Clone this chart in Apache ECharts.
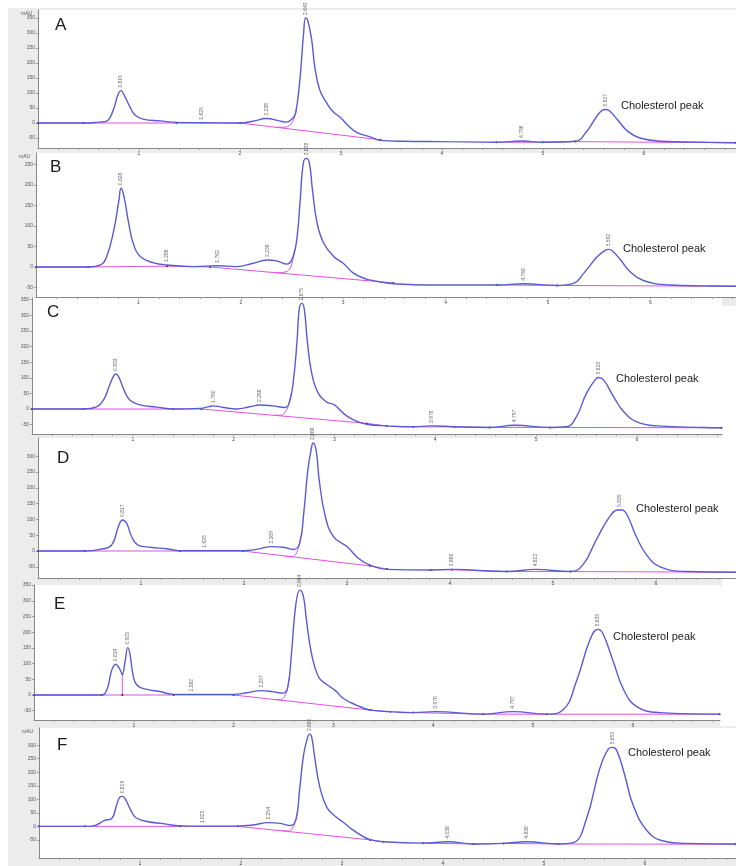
<!DOCTYPE html>
<html><head><meta charset="utf-8">
<script src="https://cdn.jsdelivr.net/npm/echarts@6/dist/echarts.min.js"></script>
<style>html,body{margin:0;padding:0;background:#fff}#c{width:736px;height:866px}</style>
</head><body><div id="c"></div>
<script>
// ---- Chromatogram traces (time min, signal mAU) ----
const curveA = [[0,0],[0.45,0],[0.61,3],[0.68,6],[0.745,43],[0.79,93],[0.82,108],[0.86,88],[0.91,54],[0.96,27],[1.04,13],[1.21,7],[1.37,2],[1.62,1],[2.0,0],[2.13,6],[2.26,15],[2.39,7],[2.46,3],[2.52,15],[2.55,33],[2.59,133],[2.63,300],[2.65,350],[2.67,343],[2.71,277],[2.74,188],[2.79,110],[2.86,66],[2.92,38],[3.0,17],[3.06,-5],[3.16,-32],[3.29,-46],[3.39,-58],[3.61,-61],[4.0,-62],[4.54,-64],[4.79,-60],[5.0,-64],[5.32,-61],[5.43,-29],[5.53,21],[5.59,43],[5.62,45],[5.66,40],[5.74,10],[5.84,-28],[5.96,-50],[6.16,-61],[6.58,-64],[6.91,-66]];
const curveB = [[0,0],[0.51,0],[0.63,5],[0.69,25],[0.76,90],[0.81,163],[0.83,192],[0.86,171],[0.905,107],[0.954,54],[1.02,25],[1.15,10],[1.28,5],[1.54,1],[1.77,3],[1.96,1],[2.12,9],[2.26,17],[2.35,15],[2.45,7],[2.51,25],[2.55,74],[2.58,163],[2.61,253],[2.64,265],[2.67,253],[2.70,188],[2.745,107],[2.81,58],[2.91,25],[3.0,9],[3.10,-15],[3.23,-30],[3.27,-32],[3.49,-41],[3.92,-44],[4.5,-44],[4.76,-41],[5.09,-45],[5.25,-40],[5.35,-15],[5.48,25],[5.56,41],[5.59,43],[5.63,39],[5.71,17],[5.80,-11],[5.93,-33],[6.2,-44],[6.52,-46],[6.84,-47]];
const curveC = [[0,0],[0.51,0],[0.64,7],[0.71,29],[0.77,77],[0.81,106],[0.83,112],[0.86,103],[0.906,66],[0.97,29],[1.07,13],[1.24,6],[1.40,0],[1.67,2],[1.76,8],[1.80,10],[1.90,5],[2.03,0],[2.16,7],[2.26,13],[2.39,10],[2.51,5],[2.55,18],[2.59,82],[2.63,221],[2.65,317],[2.675,338],[2.70,322],[2.73,221],[2.775,114],[2.84,50],[2.92,23],[3.0,13],[3.09,-14],[3.19,-35],[3.32,-49],[3.52,-54],[3.78,-57],[3.96,-54],[4.19,-57],[4.54,-59],[4.79,-52],[5.14,-59],[5.30,-57],[5.40,-25],[5.50,50],[5.59,95],[5.62,101],[5.67,93],[5.77,39],[5.87,-9],[6.0,-41],[6.2,-54],[6.66,-59],[6.84,-60]];
const curveD = [[0,0],[0.457,0],[0.60,5],[0.715,19],[0.78,77],[0.82,98],[0.86,88],[0.91,45],[0.97,19],[1.09,12],[1.25,7],[1.38,1],[1.62,1],[2.0,1],[2.12,5],[2.27,14],[2.38,12],[2.48,5],[2.54,24],[2.58,119],[2.62,256],[2.66,335],[2.67,342],[2.70,320],[2.73,225],[2.79,109],[2.87,45],[3.0,14],[3.11,-23],[3.22,-44],[3.39,-58],[3.81,-60],[4.02,-58],[4.55,-65],[4.83,-58],[5.17,-65],[5.29,-44],[5.42,35],[5.55,109],[5.63,130],[5.67,130],[5.72,114],[5.81,45],[5.91,-13],[6.04,-50],[6.30,-65],[6.78,-67]];
const curveE = [[0,0],[0.68,0],[0.73,16],[0.78,80],[0.82,98],[0.855,85],[0.885,67],[0.91,101],[0.94,151],[0.96,133],[0.99,69],[1.03,32],[1.13,18],[1.26,11],[1.40,2],[1.58,2],[2.0,2],[2.13,7],[2.28,14],[2.40,10],[2.49,6],[2.54,21],[2.58,133],[2.625,292],[2.665,334],[2.70,313],[2.73,239],[2.78,133],[2.85,58],[2.93,34],[3.02,14],[3.10,-11],[3.23,-32],[3.37,-48],[3.57,-53],[3.80,-56],[4.02,-53],[4.50,-61],[4.80,-53],[5.14,-61],[5.30,-48],[5.44,48],[5.57,175],[5.65,209],[5.70,196],[5.80,111],[5.91,16],[6.04,-37],[6.27,-56],[6.87,-61]];
const curveF = [[0,0],[0.455,0],[0.54,2],[0.65,22],[0.72,29],[0.77,81],[0.80,108],[0.825,111],[0.86,97],[0.91,59],[0.96,32],[1.07,18],[1.23,10],[1.40,2],[1.62,1],[1.97,1],[2.12,5],[2.27,14],[2.39,11],[2.49,3],[2.545,27],[2.58,135],[2.62,265],[2.66,330],[2.68,341],[2.70,330],[2.73,254],[2.78,146],[2.85,70],[2.93,38],[3.01,16],[3.11,-14],[3.21,-38],[3.28,-49],[3.41,-57],[3.80,-62],[4.05,-57],[4.30,-65],[4.60,-63],[4.83,-57],[5.14,-65],[5.29,-60],[5.42,27],[5.55,211],[5.64,287],[5.68,292],[5.72,281],[5.80,189],[5.88,81],[6.02,-16],[6.18,-54],[6.41,-63],[6.90,-65]];

// ---- Integration baselines (segments) ----
const baseA = [[[0,0],[0.45,0],[1.37,0],[2.0,0],[3.39,-56]],[[4.54,-64],[5.0,-64],[5.32,-62],[6.91,-66]]];
const baseB = [[[0,0],[0.51,0],[1.28,2],[1.7,0],[3.49,-39]],[[4.5,-44],[5.09,-45],[6.84,-47]]];
const baseC = [[[0,0],[0.51,0],[1.40,0],[1.68,0],[3.32,-46],[3.52,-54]],[[3.78,-57],[4.19,-57],[4.54,-59],[5.14,-59],[6.84,-60]]];
const baseD = [[[0,0],[0.457,0],[1.38,0],[1.99,0],[3.22,-47],[3.39,-57]],[[3.81,-60],[4.02,-59],[4.55,-65],[5.17,-65],[6.78,-67]]];
const baseE = [[[0,0],[0.68,0],[1.40,0],[2.0,0],[3.37,-48],[3.57,-53]],[[3.80,-56],[4.50,-61],[5.14,-61],[6.87,-61]],[[0.885,0],[0.885,67]]];
const baseF = [[[0,0],[0.455,0],[1.40,0],[1.97,0],[3.28,-50],[3.41,-57]],[[3.80,-62],[4.30,-65],[4.60,-63],[5.14,-65],[6.90,-66]]];

// ---- Tangent skims under main peak ----
const skimA = [[2.36,-14],[2.44,-14],[2.50,-5],[2.54,20],[2.56,45]];
const skimB = [[2.34,-14],[2.42,-13],[2.48,-4],[2.51,20],[2.53,45]];
const skimC = [[2.40,-20],[2.47,-20],[2.52,-6],[2.55,18],[2.57,50]];
const skimD = [[2.40,-16],[2.47,-18],[2.51,-6],[2.54,24],[2.56,60]];
const skimE = [[2.40,-14],[2.47,-15],[2.51,-5],[2.54,21],[2.56,60]];
const skimF = [[2.40,-16],[2.47,-17],[2.51,-6],[2.545,27],[2.56,60]];

// ---- Peak retention-time labels ----
const peaksA = [[0.82,108],[1.62,1],[2.26,15],[2.65,350],[4.79,-60],[5.62,45]];
const labelsA = ['0.819','1.625','2.236','2.643','4.796','5.617'];
const peaksB = [[0.83,192],[1.28,5],[1.77,3],[2.26,17],[2.64,265],[4.76,-41],[5.59,43]];
const labelsB = ['0.828','1.286','1.762','2.238','2.638','4.768','5.592'];
const peaksC = [[0.83,112],[1.80,10],[2.26,13],[2.675,338],[3.96,-54],[4.79,-52],[5.62,101]];
const labelsC = ['0.833','1.760','2.268','2.675','3.978','4.797','5.613'];
const peaksD = [[0.82,98],[1.62,1],[2.27,14],[2.67,342],[4.02,-58],[4.83,-58],[5.65,130]];
const labelsD = ['0.817','1.625','2.269','2.668','3.986','4.822','5.635'];
const peaksE = [[0.82,98],[0.94,151],[1.58,2],[2.28,14],[2.665,334],[4.02,-53],[4.80,-53],[5.65,209]];
const labelsE = ['0.819','0.925','1.582','2.257','2.664','3.976','4.797','5.633'];
const peaksF = [[0.825,111],[1.62,1],[2.27,14],[2.68,341],[4.05,-57],[4.83,-57],[5.68,292]];
const labelsF = ['0.819','1.625','2.254','2.680','4.038','4.836','5.653'];

// ---- Axis tick labels ----
const yTicks350 = [-50,0,50,100,150,200,250,300,350];
const yTicks300 = [-50,0,50,100,150,200,250,300];
const yTicks250 = [-50,0,50,100,150,200,250];
const xTickLabels = [1,2,3,4,5,6];
const panelLetters = ['A','B','C','D','E','F'];
const cholText = 'Cholesterol peak';

// ---- Layout (pixels) ----
const panels = [
  {curve:curveA, base:baseA, skim:skimA, peaks:peaksA, labels:labelsA, yt:yTicks350, left:38, top:10, width:698, height:138, xmax:6.911, ymin:-83.3, ymax:376.7, frameR:736, letter:[55,26], chol:[621,106], mau:true},
  {curve:curveB, base:baseB, skim:skimB, peaks:peaksB, labels:labelsB, yt:yTicks250, left:36, top:153, width:700, height:144, xmax:6.836, ymin:-73.2, ymax:278.0, frameR:736, letter:[50,168], chol:[623,249], mau:true},
  {curve:curveC, base:baseC, skim:skimC, peaks:peaksC, labels:labelsC, yt:yTicks350, left:32, top:298, width:690, height:136, xmax:6.845, ymin:-80, ymax:355.2, frameR:722, letter:[47,313], chol:[616,379], mau:false},
  {curve:curveD, base:baseD, skim:skimD, peaks:peaksD, labels:labelsD, yt:yTicks300, left:38, top:438, width:698, height:140, xmax:6.777, ymin:-85.4, ymax:357.6, frameR:722, letter:[57,459], chol:[636,509], mau:false},
  {curve:curveE, base:baseE, skim:skimE, peaks:peaksE, labels:labelsE, yt:yTicks350, left:34, top:585, width:686, height:135, xmax:6.874, ymin:-79.6, ymax:350.3, frameR:720, letter:[54,605], chol:[613,637], mau:false},
  {curve:curveF, base:baseF, skim:skimF, peaks:peaksF, labels:labelsF, yt:yTicks300, left:39, top:728, width:697, height:148, xmax:6.901, ymin:-116.9, ymax:363.6, frameR:736, letter:[57,746], chol:[628,753], mau:true}
];

const BLUE = '#5a5ad6', MAG = '#e052e0', FONT = 'Liberation Sans';
const minorX = []; for (let i = 1; i <= 34; i++) minorX.push(+(i * 0.2).toFixed(1));

const grid = [], xAxis = [], yAxis = [], series = [], graphic = [];
panels.forEach((p, i) => {
  graphic.push({type:'rect', z:-100, shape:{x:8, y:p.top - 2, width:p.frameR - 8, height:p.height + 11}, style:{fill:'#ececec'}});
  grid.push({left:p.left, top:p.top, width:p.width, height:p.height, show:true, backgroundColor:'#ffffff', borderWidth:0});
  xAxis.push({type:'value', gridIndex:i, min:0, max:p.xmax,
    axisLine:{show:true, onZero:false, lineStyle:{color:'#888', width:1}},
    axisTick:{show:true, customValues:minorX, length:2, lineStyle:{color:'#999'}},
    axisLabel:{show:true, customValues:xTickLabels, fontSize:5, color:'#444', margin:3, fontFamily:FONT},
    splitLine:{show:false}});
  yAxis.push({type:'value', gridIndex:i, min:p.ymin, max:p.ymax,
    axisLine:{show:true, lineStyle:{color:'#888', width:1}},
    axisTick:{show:true, customValues:p.yt, length:2, lineStyle:{color:'#999'}},
    axisLabel:{show:true, customValues:p.yt, fontSize:5, color:'#555', margin:3, fontFamily:FONT},
    splitLine:{show:false}});
  series.push({type:'line', xAxisIndex:i, yAxisIndex:i, data:p.curve, showSymbol:false, smooth:0.45,
    lineStyle:{color:BLUE, width:1.4}, z:3, silent:true});
  p.base.forEach(seg => series.push({type:'line', xAxisIndex:i, yAxisIndex:i, data:seg, showSymbol:true, symbol:'circle', symbolSize:2,
    itemStyle:{color:'#333'}, lineStyle:{color:MAG, width:1}, z:2, silent:true}));
  series.push({type:'line', xAxisIndex:i, yAxisIndex:i, data:p.skim, showSymbol:false, smooth:0.4,
    lineStyle:{color:MAG, width:1}, z:2, silent:true});
  series.push({type:'scatter', xAxisIndex:i, yAxisIndex:i, symbolSize:0, z:4, silent:true,
    data:p.peaks.map((pt, k) => ({value:pt, name:p.labels[k]})),
    label:{show:true, formatter:'{b}', position:'top', distance:3, rotate:90, align:'left', verticalAlign:'middle',
      fontSize:5, color:'#444', fontFamily:FONT}});
  graphic.push({type:'text', z:100, left:p.letter[0], top:p.letter[1] - 9,
    style:{text:panelLetters[i], font:'17px "Liberation Sans"', fill:'#1a1a1a'}});
  graphic.push({type:'text', z:100, left:p.chol[0], top:p.chol[1] - 6,
    style:{text:cholText, font:'11px "Liberation Sans"', fill:'#222'}});
  if (p.mau) graphic.push({type:'text', z:100, left:p.left - 17, top:p.top + 1,
    style:{text:'mAU', font:'5px "Liberation Sans"', fill:'#555'}});
});

const chart = echarts.init(document.getElementById('c'), null, {renderer:'canvas'});
chart.setOption({animation:false, backgroundColor:'#ffffff', grid, xAxis, yAxis, series, graphic});
</script></body></html>
